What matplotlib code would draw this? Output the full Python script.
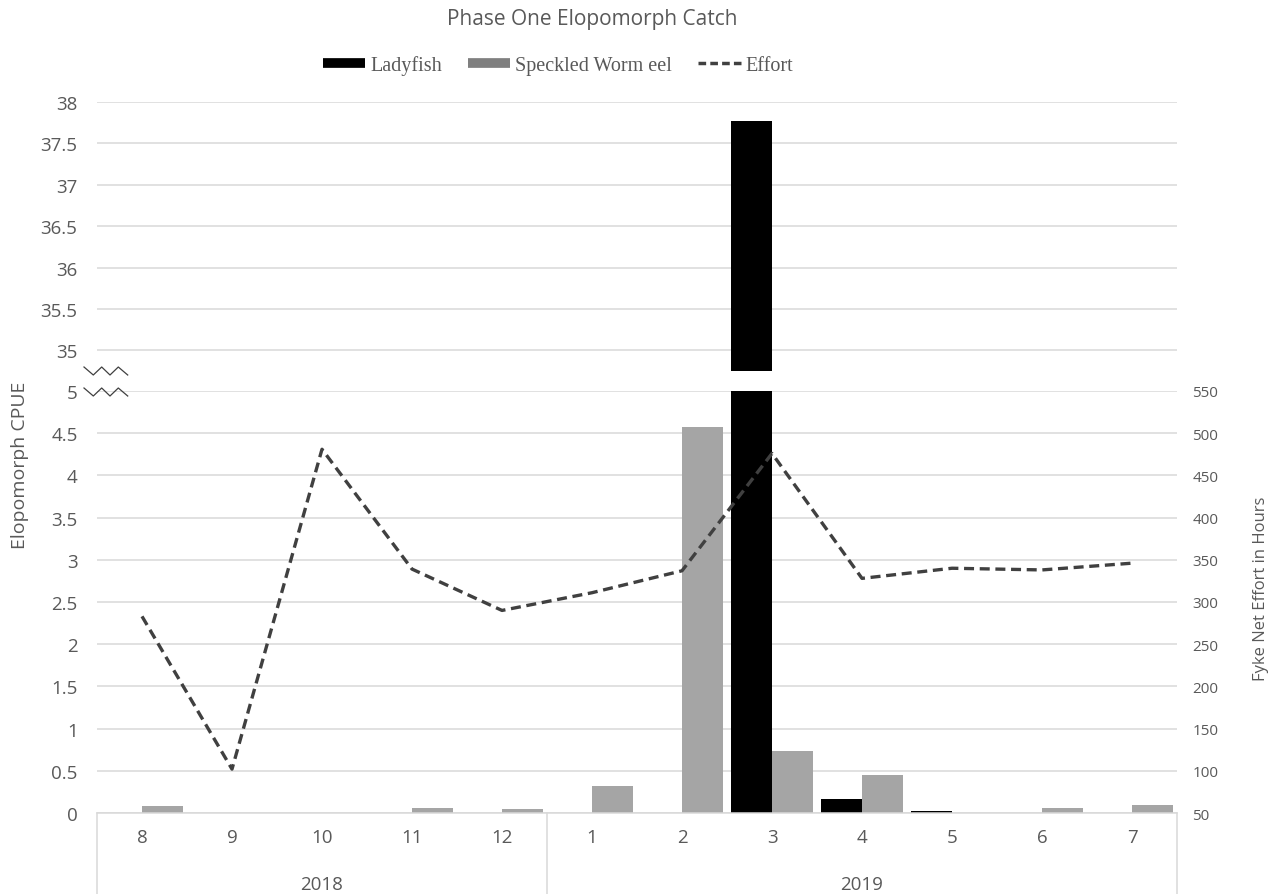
import matplotlib

matplotlib.use("Agg")
import matplotlib.pyplot as plt
from matplotlib.lines import Line2D
import matplotlib.transforms as mtransforms

months = ["8", "9", "10", "11", "12", "1", "2", "3", "4", "5", "6", "7"]
years = ["2018", "2019"]
year_spans = [(0, 4), (5, 11)]
ladyfish = [0, 0, 0, 0, 0, 0, 0, 37.77, 0.17, 0.02, 0, 0]
worm_eel = [0.08, 0, 0, 0.06, 0.05, 0.32, 4.57, 0.73, 0.45, 0, 0.06, 0.09]
effort = [283, 102, 481, 339, 290, 311, 337, 476, 328, 340, 338, 346]

GRID = "#d9d9d9"
TEXT = "#595959"
SANS = ["Open Sans", "DejaVu Sans"]
SERIF = ["Liberation Serif", "DejaVu Serif"]

W, H = 1275, 895
fig = plt.figure(figsize=(W / 100, H / 100), dpi=100)


def box(x0, y0, x1, y1):
    # pixel box (top-left origin) -> figure fraction rect
    return [x0 / W, 1 - y1 / H, (x1 - x0) / W, (y1 - y0) / H]


ax_top = fig.add_axes(box(97, 103, 1177, 372))
ax = fig.add_axes(box(97, 392, 1177, 814))
ax2 = ax.twinx()

xs = list(range(len(months)))
bw = 0.455
off = 0.228
for a in (ax_top, ax):
    a.bar([x - off for x in xs], ladyfish, bw, color="black", zorder=2)
    a.bar([x + off for x in xs], worm_eel, bw, color="#a5a5a5", zorder=2)
    a.set_xlim(-0.5, len(months) - 0.5)
    a.grid(axis="y", color=GRID, lw=1.1, zorder=0)
    a.set_axisbelow(True)
    for s in a.spines.values():
        s.set_visible(False)
    a.tick_params(axis="y", length=0, pad=14, labelsize=13.5, labelcolor=TEXT)

ax_top.set_ylim(34.75, 38)
top_ticks = [35, 35.5, 36, 36.5, 37, 37.5, 38]
ax_top.set_yticks(top_ticks)
ax_top.set_yticklabels([f"{v:g}" for v in top_ticks], family=SANS)
ax_top.set_xticks([])

ax.set_ylim(0, 5)
low_ticks = [i * 0.5 for i in range(11)]
ax.set_yticks(low_ticks)
ax.set_yticklabels([f"{v:g}" for v in low_ticks], family=SANS)
ax.spines["bottom"].set_visible(True)
ax.spines["bottom"].set_color(GRID)
ax.spines["bottom"].set_linewidth(1.1)
ax.set_xticks(xs)
ax.set_xticklabels(months, family=SANS)
ax.tick_params(axis="x", length=0, pad=11, labelsize=13.5, labelcolor=TEXT)

# year row and separators under the category axis
trans = mtransforms.blended_transform_factory(ax.transData, ax.transAxes)
depth = (895 - 814) / (814 - 392)
for yr, (i0, i1) in zip(years, year_spans):
    ax.text((i0 + i1) / 2, -(885 - 814) / 422, yr, transform=trans, ha="center",
            va="center", fontsize=13.5, color=TEXT, family=SANS)
for xb in (-0.5, 4.5, 11.5):
    ax.plot([xb, xb], [0, -depth], transform=trans, color=GRID, lw=1.1, clip_on=False)

ax2.plot(xs, effort, color="#404040", lw=2.4, ls=(0, (3, 1.7)), zorder=3)
ax2.set_ylim(50, 550)
ax2.set_yticks(list(range(50, 551, 50)))
ax2.set_yticklabels([str(v) for v in range(50, 551, 50)], family=SANS)
ax2.tick_params(axis="y", length=0, pad=11, labelsize=11, labelcolor=TEXT)
for s in ax2.spines.values():
    s.set_visible(False)

# axis titles
fig.text(20 / W, 1 - 465 / H, "Elopomorph CPUE", rotation=90, ha="center",
         va="center", fontsize=14, color=TEXT, family=SANS)
fig.text(1261 / W, 1 - 589 / H, "Fyke Net Effort in Hours", rotation=90,
         ha="center", va="center", fontsize=12, color=TEXT, family=SANS)
fig.text(592 / W, 1 - 19 / H, "Phase One Elopomorph Catch", ha="center",
         va="center", fontsize=15, color=TEXT, family=SANS)

# axis break marks
for yc in (372, 393):
    px = [84, 93.3, 101.7, 110, 118.3, 127.7]
    py = [yc - 4, yc + 4, yc - 4, yc + 4, yc - 4, yc + 4]
    fig.add_artist(Line2D([x / W for x in px], [1 - y / H for y in py],
                          color="#404040", lw=0.9, transform=fig.transFigure))

handles = [
    Line2D([], [], color="black", lw=7, solid_capstyle="butt"),
    Line2D([], [], color="#7f7f7f", lw=7, solid_capstyle="butt"),
    Line2D([], [], color="#404040", lw=2.5, ls=(0, (2.2, 1.2))),
]
leg = fig.legend(handles, ["Ladyfish", "Speckled Worm eel", "Effort"],
                 loc="center", bbox_to_anchor=(558 / W, 1 - 66 / H), ncol=3,
                 frameon=False, handlelength=2.1, handletextpad=0.25,
                 columnspacing=1.3, prop={"family": SERIF, "size": 14.5})
for t in leg.get_texts():
    t.set_color(TEXT)

fig.savefig("out.png", dpi=100)
